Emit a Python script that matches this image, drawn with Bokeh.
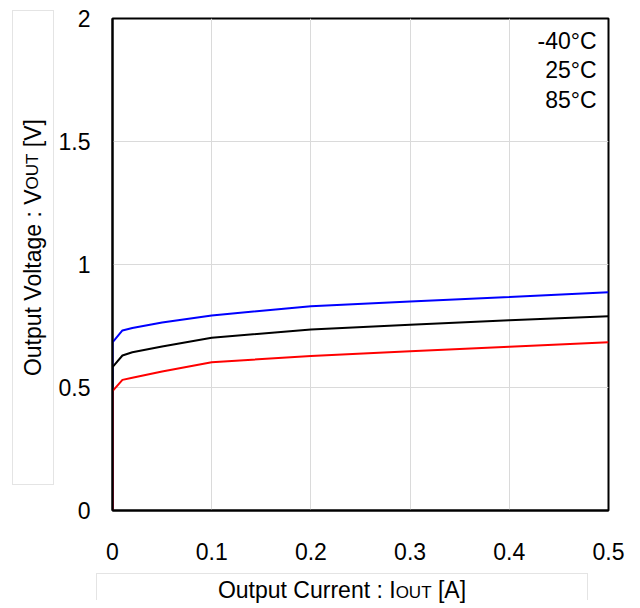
from bokeh.plotting import figure
from bokeh.models import Label, FixedTicker, Range1d, Div
from bokeh.layouts import row, column
from bokeh.embed import file_html
from bokeh.resources import INLINE

current = [0, 0, 0.01, 0.02, 0.05, 0.1, 0.2, 0.3, 0.4, 0.5]
v_m40 = [0, 0.683, 0.732, 0.742, 0.764, 0.793, 0.830, 0.850, 0.868, 0.887]
v_25 = [0, 0.583, 0.630, 0.643, 0.667, 0.702, 0.736, 0.755, 0.773, 0.790]
v_85 = [0, 0.485, 0.531, 0.540, 0.565, 0.603, 0.628, 0.647, 0.666, 0.684]
labels = ["-40°C", "25°C", "85°C"]
label_y = [1.91, 1.79, 1.67]
x_ticks = [0, 0.1, 0.2, 0.3, 0.4, 0.5]
y_ticks = [0, 0.5, 1, 1.5, 2]
x_title = ("Output Current : I", "OUT", " [A]")
y_title = ("Output Voltage : V", "OUT", " [V]")

FONT = "Liberation Sans"

p = figure(width=577, height=570, output_backend="svg", toolbar_location=None,
           x_range=Range1d(0, 0.5), y_range=Range1d(0, 2),
           min_border_left=0, min_border_right=24, min_border_top=18, min_border_bottom=60)

p.outline_line_color = "black"
p.outline_line_width = 2
for ax in (p.xaxis[0], p.yaxis[0]):
    ax.axis_line_color = "black"
    ax.axis_line_width = 2
    ax.major_tick_line_color = None
    ax.minor_tick_line_color = None
    ax.major_label_text_font = FONT
    ax.major_label_text_font_size = "23px"
    ax.major_label_text_color = "black"

p.xaxis.ticker = FixedTicker(ticks=x_ticks)
p.yaxis.ticker = FixedTicker(ticks=y_ticks)
p.xaxis.major_label_overrides = {0: "0", 0.1: "0.1", 0.2: "0.2", 0.3: "0.3", 0.4: "0.4", 0.5: "0.5"}
p.yaxis.major_label_overrides = {0: "0", 0.5: "0.5", 1: "1", 1.5: "1.5", 2: "2"}
p.xaxis.major_label_standoff = 26
p.yaxis.major_label_standoff = 16

p.xgrid.ticker = FixedTicker(ticks=x_ticks)
p.ygrid.ticker = FixedTicker(ticks=y_ticks)
p.xgrid.grid_line_color = "#dadada"
p.ygrid.grid_line_color = "#dadada"

p.line(current, v_m40, line_color="blue", line_width=2)
p.line(current, v_25, line_color="black", line_width=2)
p.line(current, v_85, line_color="red", line_width=2)

for t, yy in zip(labels, label_y):
    p.add_layout(Label(x=0.488, y=yy, text=t, text_align="right", text_baseline="middle",
                       text_font=FONT, text_font_size="23px", text_color="black"))

font_css = "font-family:'Liberation Sans',Arial,sans-serif;font-size:23px;color:black;white-space:nowrap;"
y_html = (
    '<div style="padding:10px 0 0 12px;">'
    '<div style="box-sizing:border-box;width:42px;height:475px;border:1px solid #e4e4e4;'
    'display:flex;align-items:center;justify-content:center;">'
    '<span style="writing-mode:vertical-rl;transform:rotate(180deg);' + font_css + '">'
    + y_title[0] + '<span style="font-size:17px">' + y_title[1] + '</span>' + y_title[2] +
    '</span></div></div>'
)
x_html = (
    '<div style="padding:3px 0 0 96px;">'
    '<div style="box-sizing:border-box;width:492px;height:27px;border:1px solid #e4e4e4;border-bottom:none;'
    'text-align:center;padding-top:5px;line-height:23px;' + font_css + '">'
    + x_title[0] + '<span style="font-size:17px">' + x_title[1] + '</span>' + x_title[2] +
    '</div></div>'
)
ydiv = Div(text=y_html, width=55, height=570, margin=0)
xdiv = Div(text=x_html, width=632, height=30, margin=0)

layout = column(row(ydiv, p, spacing=0), xdiv, spacing=0)

open("out.html", "w").write(file_html(layout, INLINE))
